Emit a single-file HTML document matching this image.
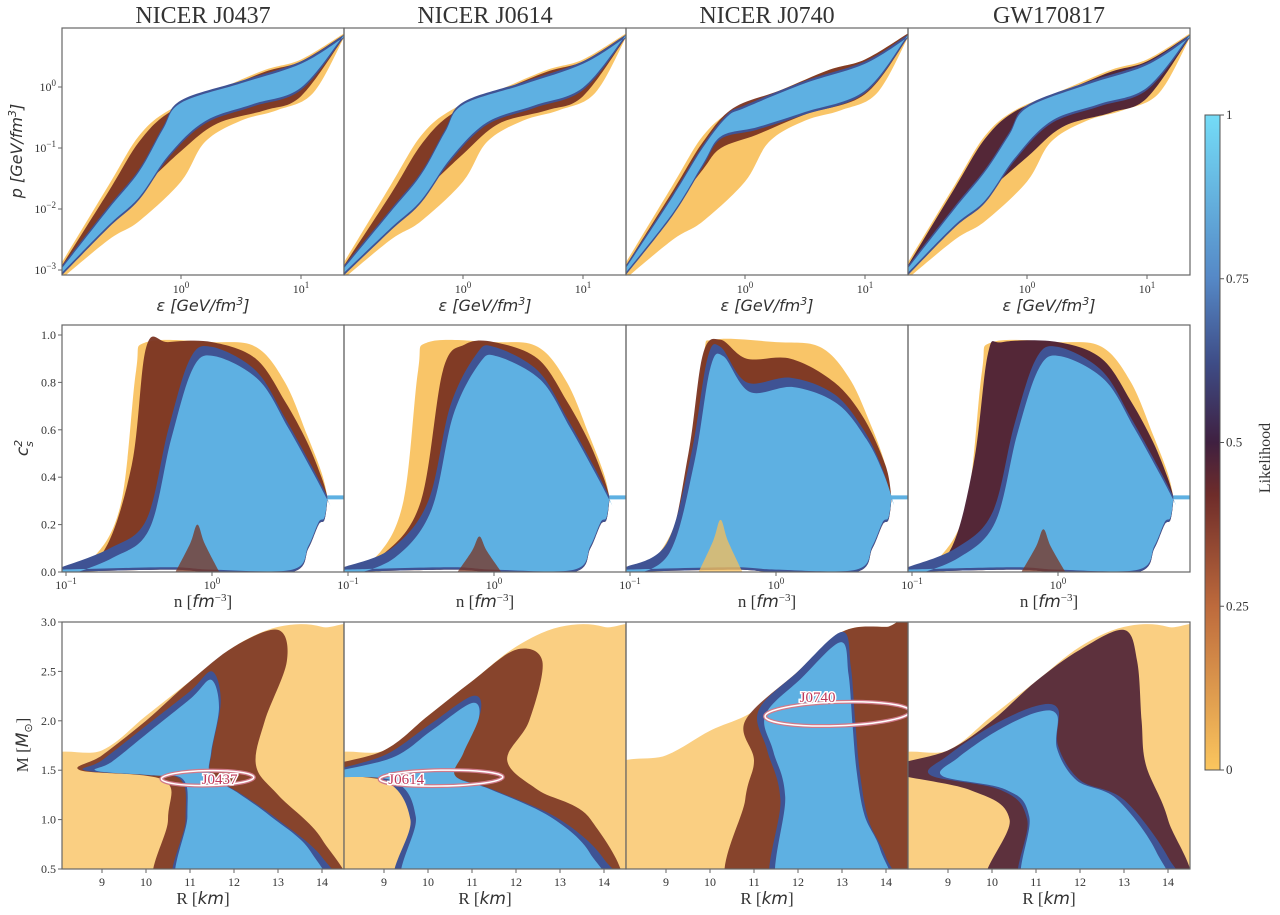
<!DOCTYPE html>
<html><head><meta charset="utf-8">
<style>
html,body{margin:0;padding:0;background:#fff;}
svg{display:block;}
text{font-family:"Liberation Serif",serif;fill:#333;}
.it{font-family:"DejaVu Sans","Liberation Sans",sans-serif;font-style:italic;}
</style></head>
<body>
<svg id="fig" width="1280" height="915" viewBox="0 0 1280 915" xmlns="http://www.w3.org/2000/svg">
<defs>
<linearGradient id="cbar" x1="0" y1="1" x2="0" y2="0">
<stop offset="0" stop-color="#fbc65e"/>
<stop offset="0.25" stop-color="#bd6a3c"/>
<stop offset="0.42" stop-color="#6e2c2a"/>
<stop offset="0.5" stop-color="#3f2040"/>
<stop offset="0.62" stop-color="#3e4c86"/>
<stop offset="0.75" stop-color="#5588c6"/>
<stop offset="1" stop-color="#74dcf7"/>
</linearGradient>
</defs>
<g id="layer"></g>
</svg>
<script>
// ----- layout -----
const colLefts=[62,344,626,908];
const PW=282;
const titles=["NICER J0437","NICER J0614","NICER J0740","GW170817"];
const COL={orange:"#f8bf58",brown:"#7a3422",dark:"#4b1f35",navy:"#3f5394",blue:"#5eb0e2"};

// ----- Row 1 data: log10(eps), log10(p) envelopes -----
const eosOrangeUp=[[-1,-2.9],[-0.6,-1.6],[-0.35,-0.8],[-0.1,-0.38],[0.3,-0.05],[0.7,0.28],[1.0,0.45],[1.36,0.88]];
const eosOrangeLo=[[-1,-3.15],[-0.6,-2.5],[-0.35,-2.2],[0,-1.55],[0.2,-0.9],[0.5,-0.55],[0.8,-0.38],[1.1,-0.1],[1.36,0.82]];
const eosBrownUp=[
 [[-1,-2.95],[-0.6,-1.7],[-0.35,-0.9],[-0.1,-0.42],[0.3,-0.08],[0.7,0.25],[1.0,0.42],[1.36,0.86]],
 [[-1,-2.95],[-0.6,-1.75],[-0.35,-0.95],[-0.1,-0.45],[0.3,-0.08],[0.7,0.25],[1.0,0.42],[1.36,0.86]],
 [[-1,-2.95],[-0.6,-1.7],[-0.35,-0.9],[-0.1,-0.35],[0.3,-0.05],[0.7,0.28],[1.0,0.45],[1.36,0.88]],
 [[-1,-2.95],[-0.6,-1.65],[-0.35,-0.85],[-0.1,-0.4],[0.3,-0.08],[0.7,0.25],[1.0,0.42],[1.36,0.86]]];
const eosBrownLo=[
 [[-1,-3.1],[-0.6,-2.15],[-0.35,-1.7],[0,-1.05],[0.3,-0.6],[0.7,-0.38],[1.0,-0.15],[1.36,0.82]],
 [[-1,-3.1],[-0.6,-2.2],[-0.35,-1.75],[0,-1.1],[0.3,-0.6],[0.7,-0.38],[1.0,-0.15],[1.36,0.82]],
 [[-1,-3.1],[-0.6,-2.0],[-0.35,-1.35],[-0.2,-1.0],[0.1,-0.78],[0.5,-0.45],[1.0,-0.12],[1.36,0.82]],
 [[-1,-3.1],[-0.6,-2.2],[-0.35,-1.75],[0,-1.15],[0.3,-0.65],[0.7,-0.42],[1.0,-0.18],[1.36,0.82]]];
const eosBlueUp=[
 [[-1,-2.95],[-0.6,-1.95],[-0.35,-1.35],[-0.15,-0.65],[0,-0.22],[0.5,0.1],[1.0,0.42],[1.36,0.86]],
 [[-1,-2.95],[-0.6,-2.0],[-0.35,-1.4],[-0.15,-0.7],[0,-0.25],[0.5,0.08],[1.0,0.42],[1.36,0.86]],
 [[-1,-2.95],[-0.6,-1.75],[-0.35,-0.95],[-0.15,-0.45],[0,-0.3],[0.5,0.1],[1.0,0.42],[1.36,0.86]],
 [[-1,-2.95],[-0.6,-1.95],[-0.35,-1.35],[-0.15,-0.75],[0,-0.3],[0.5,0.08],[1.0,0.4],[1.36,0.86]]];
const eosBlueLo=[
 [[-1,-3.1],[-0.6,-2.3],[-0.35,-1.85],[-0.1,-1.15],[0.2,-0.6],[0.6,-0.32],[1.0,-0.05],[1.36,0.82]],
 [[-1,-3.1],[-0.6,-2.35],[-0.35,-1.9],[-0.1,-1.2],[0.2,-0.62],[0.6,-0.34],[1.0,-0.05],[1.36,0.82]],
 [[-1,-3.1],[-0.6,-2.1],[-0.35,-1.3],[-0.2,-0.85],[0.1,-0.7],[0.5,-0.45],[1.0,-0.1],[1.36,0.82]],
 [[-1,-3.1],[-0.6,-2.3],[-0.35,-1.9],[-0.1,-1.2],[0.2,-0.6],[0.6,-0.32],[1.0,-0.05],[1.36,0.82]]];
const eosXTicks=[0,1];
const eosYTicks=[0,-1,-2,-3];

// ----- Row 2 data: log10(n), cs^2 envelopes -----
const csOrangeUp=[
 [[-1.03,0.02],[-0.8,0.07],[-0.62,0.3],[-0.52,0.85],[-0.45,0.97],[0,0.97],[0.3,0.95],[0.5,0.8],[0.65,0.58],[0.75,0.42],[0.79,0.32]],
 [[-1.03,0.02],[-0.8,0.07],[-0.62,0.3],[-0.52,0.85],[-0.45,0.97],[0,0.97],[0.3,0.95],[0.5,0.8],[0.65,0.58],[0.75,0.42],[0.79,0.32]],
 [[-1.03,0.02],[-0.8,0.08],[-0.62,0.35],[-0.5,0.9],[-0.42,0.98],[0,0.97],[0.3,0.95],[0.5,0.82],[0.65,0.62],[0.75,0.45],[0.79,0.32]],
 [[-1.03,0.02],[-0.8,0.07],[-0.62,0.3],[-0.52,0.85],[-0.45,0.97],[0,0.97],[0.3,0.95],[0.5,0.8],[0.65,0.58],[0.75,0.42],[0.79,0.32]]];
const csBrownUp=[
 [[-1.03,0.02],[-0.75,0.08],[-0.55,0.45],[-0.45,0.95],[-0.3,0.97],[0,0.97],[0.3,0.9],[0.5,0.72],[0.65,0.55],[0.75,0.4],[0.79,0.32]],
 [[-1.03,0.02],[-0.75,0.08],[-0.5,0.3],[-0.35,0.85],[-0.2,0.96],[0,0.97],[0.3,0.9],[0.5,0.72],[0.65,0.55],[0.75,0.4],[0.79,0.32]],
 [[-1.03,0.02],[-0.75,0.1],[-0.6,0.5],[-0.5,0.92],[-0.38,0.98],[-0.2,0.9],[0.1,0.9],[0.4,0.8],[0.6,0.65],[0.75,0.45],[0.79,0.32]],
 [[-1.03,0.02],[-0.75,0.08],[-0.58,0.45],[-0.48,0.92],[-0.38,0.97],[0,0.97],[0.3,0.9],[0.5,0.72],[0.65,0.55],[0.75,0.4],[0.79,0.32]]];
const csBlueUp=[
 [[-1.03,0.02],[-0.7,0.1],[-0.45,0.22],[-0.3,0.6],[-0.15,0.9],[0,0.95],[0.3,0.85],[0.5,0.65],[0.68,0.45],[0.79,0.32]],
 [[-1.03,0.02],[-0.7,0.1],[-0.45,0.3],[-0.3,0.7],[-0.12,0.92],[0,0.95],[0.3,0.85],[0.5,0.65],[0.68,0.45],[0.79,0.32]],
 [[-1.03,0.02],[-0.75,0.12],[-0.58,0.5],[-0.47,0.9],[-0.38,0.95],[-0.2,0.8],[0.1,0.82],[0.4,0.75],[0.6,0.6],[0.72,0.45],[0.79,0.32]],
 [[-1.03,0.02],[-0.7,0.1],[-0.45,0.25],[-0.3,0.62],[-0.15,0.9],[0,0.95],[0.3,0.85],[0.5,0.65],[0.68,0.45],[0.79,0.32]]];
const csBlueLo=[
 [[-1.03,0.0],[-0.3,0.01],[0.0,0.0],[0.55,0.0],[0.66,0.1],[0.73,0.2],[0.77,0.22],[0.79,0.3]],
 [[-1.03,0.0],[-0.3,0.01],[0.0,0.0],[0.55,0.0],[0.66,0.1],[0.73,0.2],[0.77,0.22],[0.79,0.3]],
 [[-1.03,0.0],[-0.3,0.01],[0.0,0.0],[0.55,0.0],[0.66,0.1],[0.73,0.2],[0.77,0.22],[0.79,0.3]],
 [[-1.03,0.0],[-0.3,0.01],[0.0,0.0],[0.55,0.0],[0.66,0.1],[0.73,0.2],[0.77,0.22],[0.79,0.3]]];
const csBumpX=[-0.1,-0.1,-0.38,-0.1];
const csBumpH=[0.2,0.15,0.22,0.18];
const csYTicks=[0,0.2,0.4,0.6,0.8,1.0];
const csXTicks=[-1,0];

// ----- Row 3 data: R [km], M [Msun] regions -----
const mrOrange=[
 [[8.1,1.55],[9,1.7],[10,2.05],[11,2.4],[12,2.75],[13,2.95],[14,2.95],[14.5,2.7],[14.5,0.5],[8.1,0.5]],
 [[8.1,1.55],[9,1.7],[10,2.05],[11,2.4],[12,2.75],[13,2.95],[14,2.95],[14.5,2.7],[14.5,0.5],[8.1,0.5]],
 [[8.1,1.45],[9,1.65],[10,1.9],[11,2.1],[12,2.5],[13,2.9],[14,2.95],[14.5,2.9],[14.5,0.5],[8.1,0.5]],
 [[8.1,1.55],[9,1.7],[10,2.05],[11,2.4],[12,2.75],[13,2.95],[14,2.95],[14.5,2.7],[14.5,0.5],[8.1,0.5]]];
const mrBrown=[
 [[8.5,1.5],[9,1.65],[10,2.0],[11,2.4],[12,2.75],[13,2.92],[13.2,2.6],[12.7,2.0],[12.5,1.55],[13,1.25],[14,0.8],[14.4,0.5],[10.4,0.5],[10.5,1.0],[10.4,1.4]],
 [[8.1,1.5],[9,1.7],[10,2.05],[11,2.4],[12,2.72],[12.6,2.6],[12.3,2.0],[11.8,1.6],[12.5,1.3],[13.7,1.0],[14.2,0.5],[9.8,0.5],[9.8,1.0],[9.5,1.35]],
 [[10.8,2.0],[12,2.5],[13,2.9],[14,2.95],[14.5,2.9],[14.5,0.5],[10.6,0.5],[10.8,1.2],[11,1.6]],
 [[8.1,1.5],[9,1.7],[10,2.0],[11,2.4],[12,2.72],[13,2.92],[13.3,2.6],[13.4,2.0],[13.5,1.55],[14,1.0],[14.3,0.5],[10,0.5],[10.4,1.0],[9.5,1.3]]];
const mrBlue=[
 [[8.6,1.5],[9,1.6],[10,1.95],[11,2.3],[11.5,2.5],[11.7,2.2],[11.5,1.7],[11.5,1.45],[12.2,1.25],[13,1.0],[14,0.62],[14.3,0.5],[10.8,0.5],[10.9,1.0],[10.8,1.4],[10,1.45]],
 [[8.1,1.45],[9,1.65],[10,1.95],[11,2.25],[11.2,2.1],[10.8,1.7],[10.6,1.45],[11.5,1.3],[13,1.0],[14,0.6],[14.2,0.5],[9.5,0.5],[9.6,1.0],[9,1.4]],
 [[11.1,2.1],[12,2.5],[13,2.9],[13.2,2.55],[13.3,2.0],[13.4,1.5],[13.6,1.0],[14,0.62],[14.2,0.5],[11.5,0.5],[11.6,1.2],[11.3,1.7]],
 [[8.6,1.45],[9,1.65],[10,1.95],[11,2.15],[11.5,2.12],[11.5,1.75],[12,1.4],[13,1.2],[14,0.62],[14.2,0.5],[10.8,0.5],[10.8,1.0],[10.2,1.3]]];
const mrXTicks=[9,10,11,12,13,14];
const mrYTicks=[0.5,1.0,1.5,2.0,2.5,3.0];
const ellCenterR=[11.4,10.3,12.9,null];
const ellCenterM=[1.42,1.42,2.07,null];
const ellHalfR=[1.05,1.4,1.65,0];
const ellHalfM=[0.045,0.05,0.09,0];
const ellLabel=["J0437","J0614","J0740",""];
const cbTicks=[0,0.25,0.5,0.75,1];

// ----- helpers -----
const NS="http://www.w3.org/2000/svg";
const root=document.getElementById('layer');
function mk(tag,attrs,parent){const e=document.createElementNS(NS,tag);for(const k in attrs)e.setAttribute(k,attrs[k]);(parent||root).appendChild(e);return e;}
function smoothPath(P,closed){
  const n=P.length;let d='M'+P[0][0].toFixed(1)+','+P[0][1].toFixed(1);
  const get=i=>closed?P[(i+n)%n]:P[Math.max(0,Math.min(n-1,i))];
  const last=closed?n:n-1;
  for(let i=0;i<last;i++){
    const p0=get(i-1),p1=get(i),p2=get(i+1),p3=get(i+2);
    const c1=[p1[0]+(p2[0]-p0[0])/6,p1[1]+(p2[1]-p0[1])/6];
    const c2=[p2[0]-(p3[0]-p1[0])/6,p2[1]-(p3[1]-p1[1])/6];
    d+=`C${c1[0].toFixed(1)},${c1[1].toFixed(1)} ${c2[0].toFixed(1)},${c2[1].toFixed(1)} ${p2[0].toFixed(1)},${p2[1].toFixed(1)}`;
  }
  return d+'Z';
}
function bandPath(up,lo,sx,sy,fill,op,parent){
  const U=up.map(p=>[sx(p[0]),sy(p[1])]), L=lo.map(p=>[sx(p[0]),sy(p[1])]).reverse();
  const du=smoothPath(U,false).replace('Z','');
  const dl=smoothPath(L,false).replace('Z','').replace(/^M/,'L');
  return mk('path',{d:du+dl+'Z',fill:fill,'fill-opacity':op},parent);
}
// extend points lying on the frame beyond it, so smoothing doesn't leave gaps at edges
function extendEdge(p){return [p[0]<=8.1?7.6:(p[0]>=14.5?15.0:p[0]), p[1]<=0.5?0.2:p[1]];}
function regionPath(pts,sx,sy,fill,op,parent){
  return mk('path',{d:smoothPath(pts.map(extendEdge).map(p=>[sx(p[0]),sy(p[1])]),true),fill:fill,'fill-opacity':op},parent);
}
function supTick(parent,x,y,base,exp,anchor){
  const t=mk('text',{x:x,y:y,'font-size':12,'text-anchor':anchor||'middle'},parent);
  t.textContent=base;
  const s=mk('tspan',{dy:-5,'font-size':9},t);s.textContent=exp;return t;}

const R1={top:28,bot:275},R2={top:325,bot:572},R3={top:622,bot:869};

for(let c=0;c<4;c++){
  const L=colLefts[c];
  const tt=mk('text',{x:L+PW/2,y:23,'font-size':24,'text-anchor':'middle'});
  
  
  tt.textContent=titles[c];

  // ===== Row 1 =====
  {
    const g=mk('g',{});
    
    
    const sx=v=>L+119+v*120, sy=v=>87-v*61;
    const cp=mk('clipPath',{id:'c1'+c},g);mk('rect',{x:L,y:R1.top,width:PW,height:R1.bot-R1.top},cp);
    const gg=mk('g',{'clip-path':'url(#c1'+c+')'},g);
    const o=bandPath(eosOrangeUp,eosOrangeLo,sx,sy,COL.orange,0.9,gg);
    
    const b=bandPath(eosBrownUp[c],eosBrownLo[c],sx,sy,c===3?COL.dark:COL.brown,0.95,gg);
    
    const n=bandPath(eosBlueUp[c],eosBlueLo[c],sx,sy,COL.navy,1,gg);
    
    const bl=bandPath(eosBlueUp[c].map(p=>[p[0],p[1]-0.04]),eosBlueLo[c].map(p=>[p[0],p[1]+0.04]),sx,sy,COL.blue,1,gg);
    
    mk('rect',{x:L,y:R1.top,width:PW,height:R1.bot-R1.top,fill:'none',stroke:'#666','stroke-width':1.2},g);
    eosXTicks.forEach(v=>{const x=sx(v);mk('line',{x1:x,x2:x,y1:R1.bot,y2:R1.bot+4,stroke:'#666'},g);supTick(g,x,R1.bot+18,'10',String(v));});
    if(c===0)eosYTicks.forEach(v=>{const y=sy(v);mk('line',{x1:L-4,x2:L,y1:y,y2:y,stroke:'#666'},g);supTick(g,L-6,y+4,'10',v===0?'0':'−'+(-v),'end');});
    const xl=mk('text',{x:L+PW/2,y:311,'font-size':16,'text-anchor':'middle',class:'it'},g);
    
    xl.innerHTML='ε [GeV/fm<tspan dy="-6" font-size="11">3</tspan><tspan dy="6">]</tspan>';
  }

  // ===== Row 2 =====
  {
    const g=mk('g',{});
    
    
    const sx=v=>L+4+(v+1)*146, sy=v=>572-v*237;
    const cp=mk('clipPath',{id:'c2'+c},g);mk('rect',{x:L,y:R2.top,width:PW,height:R2.bot-R2.top},cp);
    const gg=mk('g',{'clip-path':'url(#c2'+c+')'},g);
    const base=csBlueLo[c];
    const o=bandPath(csOrangeUp[c],base,sx,sy,COL.orange,0.9,gg);
    
    const b=bandPath(csBrownUp[c],base,sx,sy,c===3?COL.dark:COL.brown,0.95,gg);
    
    const n=bandPath(csBlueUp[c],csBlueLo[c],sx,sy,COL.navy,1,gg);
    
    const bl=bandPath(csBlueUp[c].map(p=>[p[0]+0.02,p[1]-0.04]),csBlueLo[c].map(p=>[p[0],p[1]+0.01]),sx,sy,COL.blue,1,gg);
    
    const bx=csBumpX[c],bh=csBumpH[c];
    const bump=bandPath([[bx-0.15,0],[bx-0.05,bh*0.6],[bx,bh],[bx+0.05,bh*0.6],[bx+0.15,0]],[[bx-0.15,0],[bx+0.15,0]],sx,sy,c===2?COL.orange:COL.brown,0.75,gg);
    
    mk('line',{x1:sx(0.79),x2:L+PW,y1:sy(0.315),y2:sy(0.315),stroke:COL.blue,'stroke-width':4},gg);
    mk('rect',{x:L,y:R2.top,width:PW,height:R2.bot-R2.top,fill:'none',stroke:'#666','stroke-width':1.2},g);
    csXTicks.forEach(v=>{const x=sx(v);mk('line',{x1:x,x2:x,y1:R2.bot,y2:R2.bot+4,stroke:'#666'},g);supTick(g,x,R2.bot+17,'10',v===0?'0':'−1');});
    if(c===0)csYTicks.forEach(v=>{const y=sy(v);mk('line',{x1:L-4,x2:L,y1:y,y2:y,stroke:'#666'},g);const t=mk('text',{x:L-6,y:y+4,'font-size':12,'text-anchor':'end'},g);t.textContent=v.toFixed(1);});
    const xl=mk('text',{x:L+PW/2,y:607,'font-size':17,'text-anchor':'middle'},g);
    
    xl.innerHTML='n [<tspan class="it">fm</tspan><tspan dy="-6" font-size="11">−3</tspan><tspan dy="6">]</tspan>';
  }

  // ===== Row 3 =====
  {
    const g=mk('g',{});
    
    
    const sx=v=>102+(L-62)+(v-9)*44, sy=v=>869-(v-0.5)*98.8;
    const cp=mk('clipPath',{id:'c3'+c},g);mk('rect',{x:L,y:R3.top,width:PW,height:R3.bot-R3.top},cp);
    const gg=mk('g',{'clip-path':'url(#c3'+c+')'},g);
    const o=regionPath(mrOrange[c],sx,sy,COL.orange,0.75,gg);
    
    const b=regionPath(mrBrown[c],sx,sy,c===3?COL.dark:COL.brown,0.9,gg);
    
    const n=regionPath(mrBlue[c],sx,sy,COL.navy,1,gg);
    
    const cx=mrBlue[c].reduce((a,p)=>a+p[0],0)/mrBlue[c].length, cy=mrBlue[c].reduce((a,p)=>a+p[1],0)/mrBlue[c].length;
    const bl=regionPath(mrBlue[c].map(p=>[p[0]<=8.1?p[0]:cx+(p[0]-cx)*0.9,p[1]<=0.5?p[1]:cy+(p[1]-cy)*0.92]),sx,sy,COL.blue,1,gg);
    
    if(ellCenterR[c]!==null){
      const ex=sx(ellCenterR[c]),ey=sy(ellCenterM[c]),rx=ellHalfR[c]*44,ry=ellHalfM[c]*98.8+3;
      const rot=c===2?-2:-1;
      mk('ellipse',{cx:ex,cy:ey,rx:rx,ry:ry,fill:'none',stroke:'#d07a8a','stroke-width':4,transform:`rotate(${rot} ${ex} ${ey})`},gg);
      const el=mk('ellipse',{cx:ex,cy:ey,rx:rx,ry:ry,fill:'none',stroke:'#fff','stroke-width':1.5,transform:`rotate(${rot} ${ex} ${ey})`},gg);
      
      
      const lx=c===0?ex+12:(c===1?ex-35:ex-20), ly=c===2?ey-12:ey+6;
      const t=mk('text',{x:lx,y:ly,'font-size':15,'text-anchor':'middle',stroke:'#fff','stroke-width':3,'paint-order':'stroke',style:'fill:#c0395a'},gg);
      
      
      t.textContent=ellLabel[c];
    }
    mk('rect',{x:L,y:R3.top,width:PW,height:R3.bot-R3.top,fill:'none',stroke:'#666','stroke-width':1.2},g);
    mrXTicks.forEach(v=>{const x=sx(v);mk('line',{x1:x,x2:x,y1:R3.bot,y2:R3.bot+4,stroke:'#666'},g);const t=mk('text',{x:x,y:R3.bot+17,'font-size':12,'text-anchor':'middle'},g);t.textContent=v;});
    if(c===0)mrYTicks.forEach(v=>{const y=sy(v);mk('line',{x1:L-4,x2:L,y1:y,y2:y,stroke:'#666'},g);const t=mk('text',{x:L-6,y:y+4,'font-size':12,'text-anchor':'end'},g);t.textContent=v.toFixed(1);});
    const xl=mk('text',{x:L+PW/2,y:904,'font-size':17,'text-anchor':'middle'},g);
    
    xl.innerHTML='R [<tspan class="it">km</tspan>]';
  }
}

const y1=mk('text',{x:0,y:0,'font-size':16,'text-anchor':'middle',class:'it',transform:'translate(22,151) rotate(-90)'});

y1.innerHTML='p [GeV/fm<tspan dy="-6" font-size="11">3</tspan><tspan dy="6">]</tspan>';
const y2=mk('text',{x:0,y:0,'font-size':17,'text-anchor':'middle',class:'it',transform:'translate(28,448) rotate(-90)'});

y2.innerHTML='c<tspan dy="-6" font-size="11">2</tspan><tspan dx="-7" dy="11" font-size="11">s</tspan>';
const y3=mk('text',{x:0,y:0,'font-size':17,'text-anchor':'middle',transform:'translate(28,745) rotate(-90)'});

y3.innerHTML='M [<tspan class="it">M</tspan><tspan dy="4" font-size="11">⊙</tspan><tspan dy="-4">]</tspan>';

const cbTop=115,cbBot=770,cbX=1205,cbW=15;
const cb=mk('rect',{x:cbX,y:cbTop,width:cbW,height:cbBot-cbTop,fill:'url(#cbar)',stroke:'#555','stroke-width':1});

cbTicks.forEach(v=>{const y=cbBot-v*(cbBot-cbTop);mk('line',{x1:cbX+cbW,x2:cbX+cbW+4,y1:y,y2:y,stroke:'#555'});const t=mk('text',{x:cbX+cbW+6,y:y+4,'font-size':13},root);t.textContent=String(v);});
const cl=mk('text',{x:0,y:0,'font-size':16,'text-anchor':'middle',transform:'translate(1270,458) rotate(-90)'});

cl.textContent='Likelihood';
</script>
</body></html>
